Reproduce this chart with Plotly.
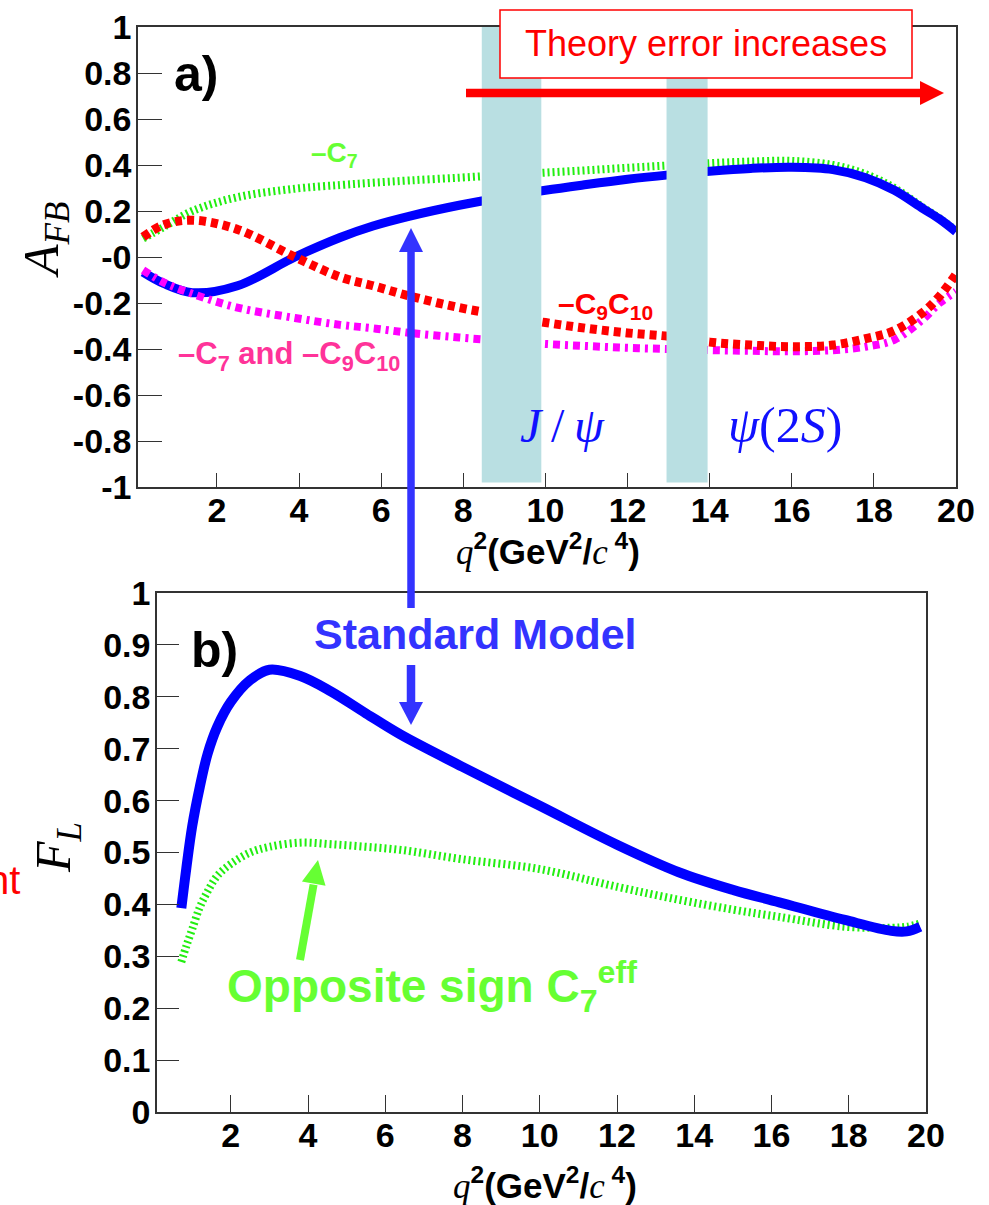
import numpy as np
import plotly.graph_objects as go

W, H = 989, 1205

# ---------------- data ----------------
afb_q2 = [0.2, 0.7, 1.4, 2.5, 3.9, 5.0, 5.8, 6.7, 7.9, 9.0, 10.0, 11.0, 12.0,
          13.0, 14.0, 15.0, 16.0, 17.0, 17.8, 18.5, 19.2, 19.6, 20.0]
afb_sm = [-0.066, -0.115, -0.155, -0.125, 0.0, 0.085, 0.135, 0.178, 0.225, 0.26,
          0.29, 0.315, 0.338, 0.357, 0.373, 0.385, 0.39, 0.38, 0.345, 0.29,
          0.21, 0.165, 0.11]
afb_c7 = [0.08, 0.13, 0.2, 0.26, 0.297, 0.313, 0.323, 0.333, 0.345, 0.357,
          0.367, 0.377, 0.388, 0.398, 0.408, 0.415, 0.418, 0.40, 0.36, 0.30,
          0.215, 0.168, 0.115]
afb_c9c10 = [0.087, 0.14, 0.16, 0.12, 0.0, -0.087, -0.125, -0.17, -0.22, -0.255,
             -0.285, -0.31, -0.33, -0.345, -0.37, -0.383, -0.39, -0.383, -0.355,
             -0.32, -0.24, -0.17, -0.075]
afb_c7c9c10 = [-0.057, -0.11, -0.16, -0.22, -0.265, -0.295, -0.31, -0.33, -0.35,
               -0.365, -0.378, -0.387, -0.395, -0.40, -0.405, -0.408, -0.41,
               -0.405, -0.39, -0.36, -0.27, -0.20, -0.15]

fl_q2 = [0.72, 0.85, 1.0, 1.2, 1.4, 1.65, 2.0, 2.5, 3.0, 3.8, 4.6, 5.5, 6.4,
         8.0, 10.0, 12.0, 13.6, 15.0, 16.2, 17.9, 19.1, 19.5, 19.85]
fl_sm = [0.393, 0.47, 0.55, 0.627, 0.69, 0.742, 0.79, 0.832, 0.852, 0.840, 0.810,
         0.768, 0.727, 0.665, 0.59, 0.515, 0.462, 0.428, 0.404, 0.37, 0.349,
         0.348, 0.357]
fl_c7 = [0.289, 0.32, 0.352, 0.395, 0.425, 0.455, 0.478, 0.50, 0.511, 0.519,
         0.516, 0.511, 0.505, 0.487, 0.468, 0.434, 0.409, 0.39, 0.376, 0.357,
         0.355, 0.357, 0.363]

resonance_bands = [(8.45, 9.9), (12.95, 13.95)]
afb_ticks = [-1, -0.8, -0.6, -0.4, -0.2, 0, 0.2, 0.4, 0.6, 0.8, 1]
afb_ticktext = ["-1", "-0.8", "-0.6", "-0.4", "-0.2", "-0", "0.2", "0.4", "0.6", "0.8", "1"]
fl_ticks = [0, 0.1, 0.2, 0.3, 0.4, 0.5, 0.6, 0.7, 0.8, 0.9, 1]
fl_ticktext = ["0", "0.1", "0.2", "0.3", "0.4", "0.5", "0.6", "0.7", "0.8", "0.9", "1"]
q2_ticks = [2, 4, 6, 8, 10, 12, 14, 16, 18, 20]


def X(px):
    return px / W


def Y(py):
    return 1 - py / H


BLUE = "#0000ff"
GREEN_LINE = "#22ee11"
GREEN_TXT = "#66ff33"
RED = "#ff0000"
MAGENTA = "#ff00ff"
PINK = "#ff3399"
ARROW_BLUE = "#3333ff"
BAND = "#b9dfe2"

fig = go.Figure()

# top panel curves
fig.add_trace(go.Scatter(x=afb_q2, y=afb_c7, mode="lines", line_shape="spline",
                         line=dict(color=GREEN_LINE, width=8, dash="2px,3px"),
                         xaxis="x", yaxis="y", showlegend=False))
fig.add_trace(go.Scatter(x=afb_q2, y=afb_sm, mode="lines", line_shape="spline",
                         line=dict(color=BLUE, width=9),
                         xaxis="x", yaxis="y", showlegend=False))
fig.add_trace(go.Scatter(x=afb_q2, y=afb_c7c9c10, mode="lines", line_shape="spline",
                         line=dict(color=MAGENTA, width=8, dash="7px,5px,3px,5px"),
                         xaxis="x", yaxis="y", showlegend=False))
fig.add_trace(go.Scatter(x=afb_q2, y=afb_c9c10, mode="lines", line_shape="spline",
                         line=dict(color=RED, width=9, dash="7px,5px"),
                         xaxis="x", yaxis="y", showlegend=False))

# bottom panel curves
fig.add_trace(go.Scatter(x=fl_q2, y=fl_c7, mode="lines", line_shape="spline",
                         line=dict(color=GREEN_LINE, width=8, dash="2px,3px"),
                         xaxis="x2", yaxis="y2", showlegend=False))
fig.add_trace(go.Scatter(x=fl_q2, y=fl_sm, mode="lines", line_shape="spline",
                         line=dict(color=BLUE, width=10),
                         xaxis="x2", yaxis="y2", showlegend=False))

tickfont = dict(family="Liberation Sans", size=34, color="black", weight="bold")
axis_common = dict(showline=True, linecolor="#333", linewidth=1.5, mirror=True,
                   ticks="inside", tickcolor="#333", tickwidth=1, automargin=False,
                   showgrid=False, zeroline=False, tickfont=tickfont)

fig.update_layout(
    width=W, height=H, margin=dict(l=0, r=0, t=0, b=0, pad=0, autoexpand=False),
    paper_bgcolor="white", plot_bgcolor="white", showlegend=False,
    xaxis=dict(domain=[X(138), X(956)], range=[0.077, 20], tickvals=q2_ticks,
               ticklen=14, anchor="y", ticklabelstandoff=-8, **axis_common),
    yaxis=dict(domain=[Y(487), Y(27)], range=[-1, 1], tickvals=afb_ticks,
               ticktext=afb_ticktext, ticklen=24, anchor="x", ticklabelstandoff=-2,
               **axis_common),
    xaxis2=dict(domain=[X(157), X(926)], range=[0.09, 20], tickvals=q2_ticks,
                ticklen=17, anchor="y2", ticklabelstandoff=-8, **axis_common),
    yaxis2=dict(domain=[Y(1112), Y(593)], range=[0, 1], tickvals=fl_ticks,
                ticktext=fl_ticktext, ticklen=22, anchor="x2", ticklabelstandoff=-2,
                **axis_common),
)

shapes = []
for x0, x1 in resonance_bands:
    shapes.append(dict(type="rect", xref="x", yref="y", x0=x0, x1=x1, y0=-0.98, y1=1,
                       fillcolor=BAND, line=dict(width=0), layer="above"))
# theory error box
shapes.append(dict(type="rect", xref="paper", yref="paper", x0=X(500), x1=X(912),
                   y0=Y(78), y1=Y(10), fillcolor="white",
                   line=dict(color=RED, width=1.5), layer="above"))
# red arrow
shapes.append(dict(type="line", xref="paper", yref="paper", x0=X(466), x1=X(922),
                   y0=Y(93), y1=Y(93), line=dict(color=RED, width=8.5), layer="above"))
shapes.append(dict(type="path", xref="paper", yref="paper",
                   path=f"M {X(920)},{Y(81)} L {X(944)},{Y(93)} L {X(920)},{Y(105)} Z",
                   fillcolor=RED, line=dict(width=0), layer="above"))
# blue double arrow
shapes.append(dict(type="line", xref="paper", yref="paper", x0=X(411), x1=X(411),
                   y0=Y(250), y1=Y(608), line=dict(color=ARROW_BLUE, width=7.5), layer="above"))
shapes.append(dict(type="path", xref="paper", yref="paper",
                   path=f"M {X(399)},{Y(252)} L {X(411)},{Y(228)} L {X(423)},{Y(252)} Z",
                   fillcolor=ARROW_BLUE, line=dict(width=0), layer="above"))
shapes.append(dict(type="line", xref="paper", yref="paper", x0=X(411), x1=X(411),
                   y0=Y(665), y1=Y(704), line=dict(color=ARROW_BLUE, width=8.5), layer="above"))
shapes.append(dict(type="path", xref="paper", yref="paper",
                   path=f"M {X(399)},{Y(702)} L {X(411)},{Y(725)} L {X(423)},{Y(702)} Z",
                   fillcolor=ARROW_BLUE, line=dict(width=0), layer="above"))
# green arrow
tail = np.array([300.0, 960.0])
tip = np.array([318.0, 860.0])
d = (tip - tail) / np.linalg.norm(tip - tail)
n = np.array([-d[1], d[0]])
base = tip - 24 * d
b1 = base + 12 * n
b2 = base - 12 * n
shapes.append(dict(type="line", xref="paper", yref="paper", x0=X(tail[0]), x1=X(base[0] - d[0]),
                   y0=Y(tail[1]), y1=Y(base[1] - d[1]), line=dict(color=GREEN_TXT, width=8), layer="above"))
shapes.append(dict(type="path", xref="paper", yref="paper",
                   path=f"M {X(b1[0])},{Y(b1[1])} L {X(tip[0])},{Y(tip[1])} L {X(b2[0])},{Y(b2[1])} Z",
                   fillcolor=GREEN_TXT, line=dict(width=0), layer="above"))
fig.update_layout(shapes=shapes)


def ann(text, px, py, size, color="black", family="Liberation Sans", bold=True,
        xanchor="center", yanchor="middle", angle=0):
    fig.add_annotation(text=text, x=X(px), y=Y(py), xref="paper", yref="paper",
                       showarrow=False, xanchor=xanchor, yanchor=yanchor,
                       textangle=angle,
                       font=dict(family=family, size=size, color=color,
                                 weight="bold" if bold else "normal"))


SERIF = "Liberation Serif"
ann("Theory error increases", 706, 44, 36, RED, bold=False)
ann("a)", 196, 74, 50)
ann("b)", 214, 650, 50)
ann("–C<sub>7</sub>", 309, 154, 28, GREEN_TXT, xanchor="left")
ann("–C<sub>9</sub>C<sub>10</sub>", 556, 305, 30, RED, xanchor="left")
ann("–C<sub>7</sub> and –C<sub>9</sub>C<sub>10</sub>", 176, 356, 31, PINK, xanchor="left")
ann("<i>J</i>\u2009/\u2009<i>ψ</i>", 607, 425, 48, "#1010ff", family=SERIF, bold=False,
    xanchor="right")
ann("<i>ψ</i>(2<i>S</i>)", 785, 425, 50, "#1010ff", family=SERIF, bold=False)
ann("Standard Model", 475, 634, 43, ARROW_BLUE)
ann("Opposite sign C<sub>7</sub><sup>eff</sup>", 225, 986, 46, GREEN_TXT, xanchor="left")
ann("nt", 22, 880, 40, RED, bold=False, xanchor="right")
ann("<i>A<sub>FB</sub></i>", 45, 240, 50, "black", family=SERIF, bold=False, angle=-90)
ann("<i>F<sub>L</sub></i>", 57, 848, 50, "black", family=SERIF, bold=False, angle=-90)
qtitle = ('<span style="font-family:Liberation Serif;font-weight:normal"><i>q</i></span>'
          '<sup>2</sup>(GeV<sup>2</sup>/'
          '<span style="font-family:Liberation Serif;font-weight:normal"><i>c</i></span>'
          '<sup> 4</sup>)')
ann(qtitle, 548, 550, 35)
ann(qtitle, 545, 1183, 35)

fig.write_html("out.html")
